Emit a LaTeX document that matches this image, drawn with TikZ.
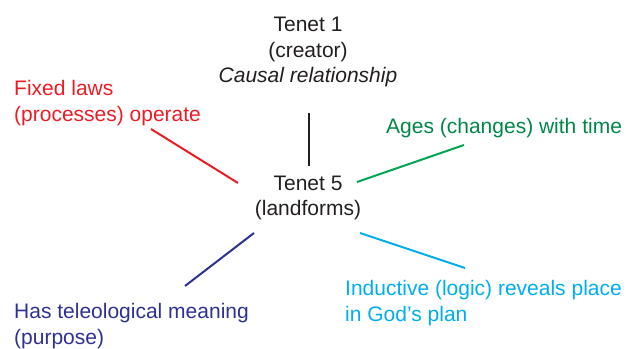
\documentclass[tikz,border=0pt]{standalone}
\usepackage{fontspec}
\setmainfont{Liberation Sans}
\usetikzlibrary{positioning}
\definecolor{lawred}{RGB}{237,28,36}
\definecolor{agegreen}{RGB}{0,135,72}
\definecolor{agelinegreen}{RGB}{0,166,81}
\definecolor{purpblue}{RGB}{46,49,146}
\definecolor{godcyan}{RGB}{0,174,239}
\definecolor{tenetgray}{RGB}{35,31,32}

\begin{document}
\begin{tikzpicture}[x=1pt,y=1pt,
        label/.style={inner sep=0pt,font=\fontsize{21}{25.5}\selectfont},
        spoke/.style={line width=2pt}]
            \useasboundingbox (0,0) rectangle (626,348);
            \node [label, align=center, text=tenetgray] (t_1) at (308,296) {Tenet 1\\(creator)\\\textit{Causal relationship}};
            \node [label, align=center, text=tenetgray] (t_5) at (308,150) {Tenet 5\\(landforms)};
            \node [label, align=left, anchor=west, text=lawred] (laws) at (14,245) {Fixed laws\\(processes) operate};
            \node [label, anchor=west, text=agegreen] (ages) at (386,220) {Ages (changes) with time};
            \node [label, align=left, anchor=west, text=purpblue] (purpose) at (14,22) {Has teleological meaning\\(purpose)};
            \node [label, align=left, anchor=west, text=godcyan] (plan) at (345,45) {Inductive (logic) reveals place\\in God’s plan};
            \coordinate (c_1) at (309,235);
            \coordinate (c_5) at (309,182);
            \coordinate (l_a) at (151,219);
            \coordinate (l_b) at (238,165);
            \coordinate (a_a) at (357,166);
            \coordinate (a_b) at (464,203);
            \coordinate (p_a) at (254,115);
            \coordinate (p_b) at (185,62);
            \coordinate (g_a) at (360,115);
            \coordinate (g_b) at (465,80);
            \draw [spoke, tenetgray] (c_1) -- (c_5);
            \draw [spoke, lawred] (l_a) -- (l_b);
            \draw [spoke, agelinegreen] (a_a) -- (a_b);
            \draw [spoke, purpblue] (p_a) -- (p_b);
            \draw [spoke, godcyan] (g_a) -- (g_b);
\end{tikzpicture}
\end{document}
